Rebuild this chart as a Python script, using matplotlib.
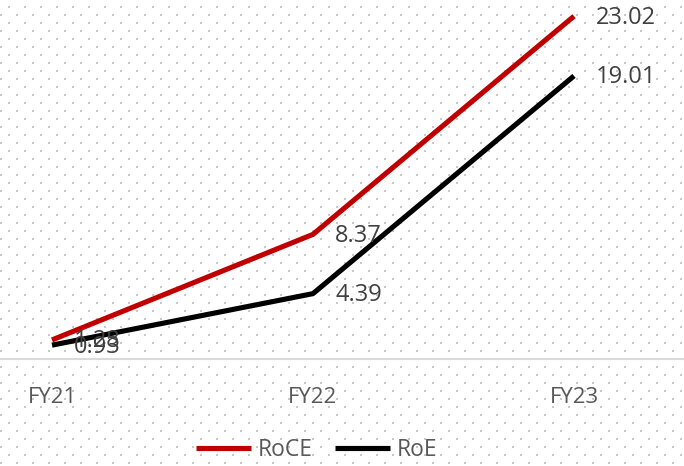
import numpy as np
import matplotlib.pyplot as plt

years = ["FY21", "FY22", "FY23"]
roce = [1.28, 8.37, 23.02]
roe = [0.93, 4.39, 19.01]
roce_labels = ["1.28", "8.37", "23.02"]
roe_labels = ["0.93", "4.39", "19.01"]

plt.rcParams["font.family"] = ["Open Sans", "DejaVu Sans"]

W, H = 684, 466
fig = plt.figure(figsize=(W / 100, H / 100), dpi=100)

# dotted background pattern
bg = np.ones((H, W, 3))
for r, y in enumerate(range(6, H, 8)):
    x0 = 8 if r % 2 == 0 else 0
    for x in range(x0, W, 16):
        bg[y:y + 2, x:x + 2] = 0.79
bgax = fig.add_axes([0, 0, 1, 1], zorder=0)
bgax.imshow(bg, interpolation="nearest", aspect="auto")
bgax.axis("off")

# main plot area: bottom at the category axis line
base = 359
ax = fig.add_axes([0, (H - base) / H, 1, base / H], zorder=1)
ax.patch.set_alpha(0)
x = np.arange(len(years))
ax.plot(x, roce, color="#c00000", lw=3.7, label="RoCE", solid_capstyle="butt")
ax.plot(x, roe, color="black", lw=3.7, label="RoE", solid_capstyle="butt")

for xi, v, t in zip(x, roce, roce_labels):
    ax.annotate(t, (xi, v), xytext=(16, -1), textcoords="offset points",
                va="center", ha="left", fontsize=17, color="#404040")
for xi, v, t in zip(x, roe, roe_labels):
    ax.annotate(t, (xi, v), xytext=(16, -1), textcoords="offset points",
                va="center", ha="left", fontsize=17, color="#404040")

ax.set_xlim(-52 / 261, (W - 52) / 261)
ax.set_ylim(0, (base - 1) / 14.85)
for s in ["top", "left", "right"]:
    ax.spines[s].set_visible(False)
ax.spines["bottom"].set_color("#d9d9d9")
ax.spines["bottom"].set_linewidth(1.5)
ax.set_yticks([])
ax.set_xticks(x)
ax.set_xticklabels(years, fontsize=16, color="#595959")
ax.tick_params(axis="x", length=0, pad=20)

fig.legend(loc="center", bbox_to_anchor=(0.463, 0.034), ncol=2, frameon=False,
           fontsize=16.5, labelcolor="#595959", handlelength=2.4,
           handletextpad=0.3, columnspacing=1.0)

plt.savefig("out.png", dpi=100)
